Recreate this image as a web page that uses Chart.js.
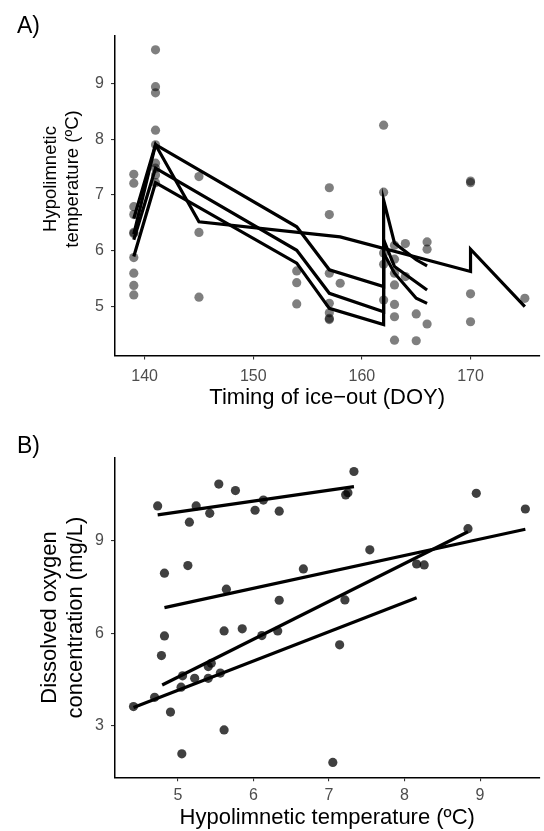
<!DOCTYPE html>
<html>
<head>
<meta charset="utf-8">
<script src="https://cdn.jsdelivr.net/npm/chart.js@4.4.1/dist/chart.umd.min.js"></script>
<style>
body { margin: 0; background: #fff; overflow: hidden; }
.panel { position: absolute; left: 0; }
</style>
</head>
<body>
<div class="panel" style="top:0"><canvas id="chartA" width="544" height="415"></canvas></div>
<div class="panel" style="top:415px"><canvas id="chartB" width="544" height="416"></canvas></div>
<script>
// ---- Panel A: hypolimnetic temperature vs ice-out DOY ----
const doyPts  = [139,139,139,139,139,139,139,139,139,139,
                 141,141,141,141,141,141,141,141,141,
                 145,145,145,
                 154,154,154,
                 157,157,157,157,157,157,157,158,
                 162,162,162,162,162,
                 163,163,163,163,163,163,163,164,164,
                 165,165,166,166,166,
                 170,170,170,170,175];
const tempPts = [7.37,7.21,6.79,6.65,6.33,6.31,5.88,5.60,5.38,5.21,
                 9.60,8.94,8.83,8.16,7.57,7.36,7.90,7.48,7.22,
                 7.33,6.33,5.17,
                 5.64,5.43,5.05,
                 7.13,6.65,5.60,5.06,4.89,4.79,4.77,5.42,
                 8.25,7.05,5.96,5.76,5.12,
                 6.10,5.85,5.60,5.39,5.04,4.82,4.40,6.13,5.54,
                 4.87,4.39,6.16,6.03,4.69,
                 7.25,7.22,5.23,4.73,5.15];

const line1Doy  = [139, 141, 154, 157, 162, 162, 163, 165, 166];
const line1Temp = [6.58, 7.90, 6.43, 5.66, 5.36, 6.91, 6.14, 5.84, 5.73];
const line2Doy  = [139, 141, 154, 157, 162, 162, 163, 166];
const line2Temp = [6.20, 7.48, 6.01, 5.24, 4.91, 6.20, 5.72, 5.30];
const line3Doy  = [139, 141, 154, 157, 162, 162, 163, 165, 166];
const line3Temp = [5.90, 7.22, 5.78, 4.97, 4.68, 5.96, 5.60, 5.15, 5.06];
const line4Doy  = [139, 141, 145, 158, 170, 170, 175];
const line4Temp = [6.30, 7.90, 6.52, 6.25, 5.63, 6.03, 5.00];

const ticksDoy  = [140, 150, 160, 170];
const ticksTemp = [5, 6, 7, 8, 9];

// ---- Panel B: dissolved oxygen vs hypolimnetic temperature ----
const tempB = [4.73,5.24,5.15,5.42,5.54,5.76,6.02,6.13,6.34,7.33,7.22,7.25,
               8.95,9.60,4.82,5.13,5.64,6.66,7.54,8.84,8.16,8.26,7.21,7.14,
               6.34,4.82,4.78,5.61,5.85,6.11,6.32,5.06,5.40,5.44,5.22,5.40,
               5.56,5.04,4.69,4.41,4.90,5.61,5.05,7.05];
const doB   = [10.14,10.14,9.61,9.90,10.85,10.64,10.00,10.33,9.97,11.26,10.50,10.57,
               10.55,10.04,7.95,8.20,7.43,8.09,8.71,9.40,8.25,8.22,7.08,5.62,
               7.07,5.91,5.27,6.07,6.14,5.92,6.07,4.61,4.91,5.02,4.53,4.53,
               4.70,4.24,3.91,3.61,3.43,2.85,2.07,1.79];

const fit1Temp = [4.73, 7.33];  const fit1Do = [9.85, 10.77];
const fit2Temp = [4.82, 9.60];  const fit2Do = [6.83, 9.38];
const fit3Temp = [4.79, 8.84];  const fit3Do = [4.31, 9.30];
const fit4Temp = [4.41, 8.16];  const fit4Do = [3.58, 7.15];

const ticksTempB = [5, 6, 7, 8, 9];
const ticksDo    = [3, 6, 9];

const FONT = "'Liberation Sans', Arial, Helvetica, sans-serif";
Chart.defaults.font.family = FONT;
Chart.defaults.animation = false;

function xy(xs, ys) { return xs.map((x, i) => ({x: x, y: ys[i]})); }

function lineSet(xs, ys) {
    return {type: 'scatter', data: xy(xs, ys), showLine: true, borderColor: '#000',
            borderWidth: 3.2, pointRadius: 0, fill: false, order: 0};
}

function axis(min, max, tickVals, title, opts) {
    return {
        type: 'linear', min: min, max: max,
        afterBuildTicks: s => { s.ticks = tickVals.map(v => ({value: v})); },
        afterFit: opts.fit,
        grid: {display: true, drawOnChartArea: false, drawTicks: true, tickLength: 4, color: '#333', lineWidth: 1.1},
        border: {display: true, color: '#000', width: 1.5},
        ticks: {color: '#4d4d4d', font: {size: 16}, padding: opts.pad},
        title: {display: !!title, text: title || '', color: '#000', font: {size: 22}, padding: opts.titlePad}
    };
}

// panel tag ("A)", "B)") and, for panel A, the two-line y title
function textPlugin(label, tagY, yTitle) {
    return {
        id: 'text' + label.charAt(0),
        afterDraw(chart) {
            const ctx = chart.ctx;
            ctx.save();
            ctx.fillStyle = '#000';
            ctx.font = '23px ' + FONT;
            ctx.textBaseline = 'alphabetic';
            ctx.fillText(label, 17, tagY);
            if (yTitle) {
                ctx.font = yTitle.size + 'px ' + FONT;
                ctx.textAlign = 'center';
                ctx.textBaseline = 'middle';
                ctx.translate(0, yTitle.cy);
                ctx.rotate(-Math.PI / 2);
                yTitle.lines.forEach((t, i) => ctx.fillText(t, 0, yTitle.x[i]));
            }
            ctx.restore();
        }
    };
}

new Chart(document.getElementById('chartA'), {
    type: 'scatter',
    data: {
        datasets: [
            lineSet(line1Doy, line1Temp),
            lineSet(line2Doy, line2Temp),
            lineSet(line3Doy, line3Temp),
            lineSet(line4Doy, line4Temp),
            {data: xy(doyPts, tempPts), backgroundColor: 'rgba(0,0,0,0.5)', borderWidth: 0,
             pointRadius: 4.6, order: 1}
        ]
    },
    options: {
        responsive: false,
        layout: {padding: {top: 36, left: 0, right: 0, bottom: 0}},
        plugins: {legend: {display: false}, tooltip: {enabled: false}},
        scales: {
            x: axis(137.27, 176.34, ticksDoy, 'Timing of ice\u2212out (DOY)',
                    {pad: 7, titlePad: {top: 0, bottom: 3.4}, fit: s => { s.height = 59.5; }}),
            y: axis(4.126, 9.847, ticksTemp, null,
                    {pad: 7, titlePad: 0, fit: s => { s.width = 115; }})
        }
    },
    plugins: [textPlugin('A)', 33, {lines: ['Hypolimnetic', 'temperature (\u00baC)'],
                                    size: 18.5, cy: 179, x: [51, 73]})]
});

new Chart(document.getElementById('chartB'), {
    type: 'scatter',
    data: {
        datasets: [
            lineSet(fit1Temp, fit1Do),
            lineSet(fit2Temp, fit2Do),
            lineSet(fit3Temp, fit3Do),
            lineSet(fit4Temp, fit4Do),
            {data: xy(tempB, doB), backgroundColor: 'rgba(0,0,0,0.75)', borderWidth: 0,
             pointRadius: 4.6, order: 1}
        ]
    },
    options: {
        responsive: false,
        layout: {padding: {top: 42.7, left: 0, right: 0, bottom: 0}},
        plugins: {legend: {display: false}, tooltip: {enabled: false}},
        scales: {
            x: axis(4.165, 9.786, ticksTempB, 'Hypolimnetic temperature (\u00baC)',
                    {pad: 4.5, titlePad: {top: 0, bottom: 0}, fit: s => { s.height = 53.7; }}),
            y: axis(1.307, 11.71, ticksDo, ['Dissolved oxygen', 'concentration (mg/L)'],
                    {pad: 7, titlePad: {top: 36.4, bottom: 0}, fit: s => { s.width = 115; }})
        }
    },
    plugins: [textPlugin('B)', 38, null)]
});
</script>
</body>
</html>
